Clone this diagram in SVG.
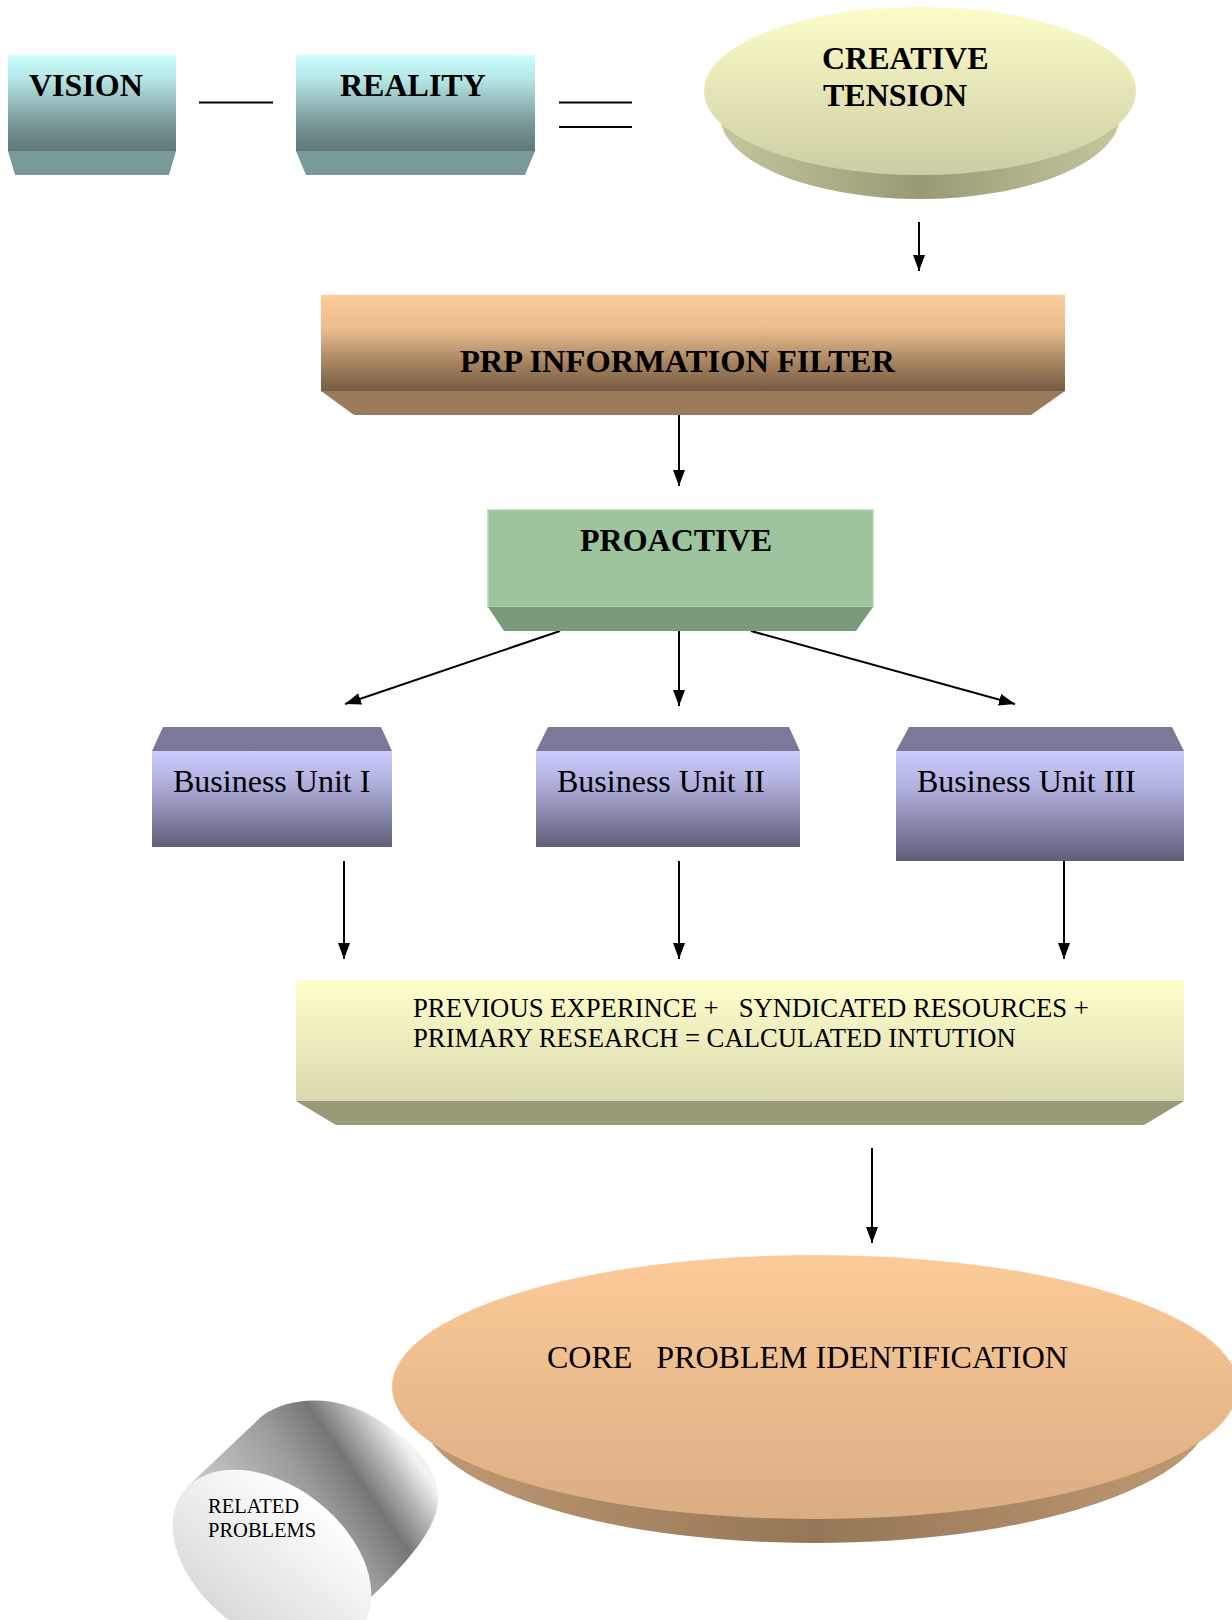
<svg xmlns="http://www.w3.org/2000/svg" width="1232" height="1620" viewBox="0 0 1232 1620">
<defs>
<style>
.b{font-family:"Liberation Serif","Times New Roman",serif;font-weight:bold;font-size:32px;fill:#000}
.r{font-family:"Liberation Serif","Times New Roman",serif;font-size:32px;fill:#000}
.s{font-family:"Liberation Serif","Times New Roman",serif;font-size:26.7px;fill:#000}
.t{font-family:"Liberation Serif","Times New Roman",serif;font-size:20.5px;fill:#000}
.ln{stroke:#000;stroke-width:2;fill:none}
.ar{stroke:#000;stroke-width:2;fill:none;marker-end:url(#ah)}
</style>
<marker id="ah" markerUnits="userSpaceOnUse" markerWidth="16" markerHeight="12" refX="16" refY="6" orient="auto">
<path d="M0,0 L16,6 L0,12 z" fill="#000"/>
</marker>
<linearGradient id="gCyan" x1="0" y1="0" x2="0" y2="1">
<stop offset="0" stop-color="#ccffff"/><stop offset="0.25" stop-color="#b6e6e6"/><stop offset="0.7" stop-color="#7b9999"/><stop offset="1" stop-color="#5e7777"/>
</linearGradient>
<linearGradient id="gPeach" x1="0" y1="0" x2="0" y2="1">
<stop offset="0" stop-color="#fecb98"/><stop offset="0.35" stop-color="#eabd8f"/><stop offset="0.72" stop-color="#a3815f"/><stop offset="1" stop-color="#765c44"/>
</linearGradient>
<linearGradient id="gBlue" x1="0" y1="0" x2="0" y2="1">
<stop offset="0" stop-color="#cacafc"/><stop offset="0.3" stop-color="#b4b4e2"/><stop offset="1" stop-color="#5e5e78"/>
</linearGradient>
<linearGradient id="gYel" x1="0" y1="0" x2="0" y2="1">
<stop offset="0" stop-color="#ffffcc"/><stop offset="1" stop-color="#d9d9ae"/>
</linearGradient>
<linearGradient id="gCTtop" x1="0" y1="0" x2="0" y2="1">
<stop offset="0" stop-color="#fdfdca"/><stop offset="1" stop-color="#cdcda4"/>
</linearGradient>
<linearGradient id="gCTside" x1="0" y1="0" x2="1" y2="0">
<stop offset="0" stop-color="#c6c69d"/><stop offset="0.5" stop-color="#999974"/><stop offset="1" stop-color="#c6c69d"/>
</linearGradient>
<linearGradient id="gCoreTop" x1="0" y1="0" x2="0" y2="1">
<stop offset="0" stop-color="#fdcb98"/><stop offset="1" stop-color="#dbad83"/>
</linearGradient>
<linearGradient id="gCoreSide" x1="0" y1="0" x2="1" y2="0">
<stop offset="0" stop-color="#c09a74"/><stop offset="0.5" stop-color="#967656"/><stop offset="1" stop-color="#c09a74"/>
</linearGradient>
<linearGradient id="gCyl" gradientUnits="userSpaceOnUse" x1="197" y1="1478" x2="353" y2="1370">
<stop offset="0" stop-color="#c8c8c8"/><stop offset="0.45" stop-color="#9c9c9c"/><stop offset="0.7" stop-color="#767676"/><stop offset="0.86" stop-color="#b4b4b4"/><stop offset="1" stop-color="#f2f2f2"/>
</linearGradient>
<linearGradient id="gCylFace" x1="0" y1="0" x2="0" y2="1">
<stop offset="0" stop-color="#ffffff"/><stop offset="1" stop-color="#dadada"/>
</linearGradient>
</defs>

<g id="connectors">
<line class="ln" x1="199" y1="102.5" x2="273" y2="102.5"/>
<line class="ln" x1="559" y1="102.5" x2="632" y2="102.5"/>
<line class="ln" x1="559" y1="127" x2="632" y2="127"/>
<line class="ar" x1="919" y1="222" x2="919" y2="271"/>
<line class="ar" x1="679" y1="415" x2="679" y2="486"/>
<line class="ar" x1="560" y1="631" x2="345" y2="704"/>
<line class="ar" x1="679" y1="631" x2="679" y2="706"/>
<line class="ar" x1="751" y1="631" x2="1015" y2="704"/>
<line class="ar" x1="344" y1="861" x2="344" y2="959"/>
<line class="ar" x1="679" y1="861" x2="679" y2="959"/>
<line class="ar" x1="1064" y1="861" x2="1064" y2="959"/>
<line class="ar" x1="872" y1="1148" x2="872" y2="1243"/>
</g>

<g id="vision">
<rect x="8" y="55" width="168" height="96" fill="url(#gCyan)"/>
<polygon points="8,151 176,151 169,175 15,175" fill="#7a9999"/>
<text class="b" x="29" y="96">VISION</text>
</g>

<g id="reality">
<rect x="296" y="55" width="239" height="96" fill="url(#gCyan)"/>
<polygon points="296,151 535,151 525,175 306,175" fill="#7a9999"/>
<text class="b" x="340" y="96">REALITY</text>
</g>

<g id="creative-tension">
<ellipse cx="920" cy="115" rx="200" ry="84" fill="url(#gCTside)"/>
<ellipse cx="920" cy="91" rx="216" ry="84" fill="url(#gCTtop)"/>
<text class="b" x="822" y="69">CREATIVE</text>
<text class="b" x="823" y="106">TENSION</text>
</g>

<g id="prp-filter">
<rect x="321" y="295" width="744" height="96" fill="url(#gPeach)"/>
<polygon points="321,391 1065,391 1031,415 354,415" fill="#9a7b5c"/>
<text class="b" x="460" y="372" textLength="435" lengthAdjust="spacingAndGlyphs">PRP INFORMATION FILTER</text>
</g>

<g id="proactive">
<rect x="488" y="510" width="385" height="97" fill="#9dc49c" stroke="#b2d6b1" stroke-width="1.5"/>
<polygon points="488,607 873,607 856,631 504,631" fill="#7a9a7a"/>
<text class="b" x="580" y="551">PROACTIVE</text>
</g>

<g id="business-unit-1">
<polygon points="163,727 381,727 392,751 152,751" fill="#7a7a98"/>
<rect x="152" y="751" width="240" height="96" fill="url(#gBlue)"/>
<text class="r" x="173" y="792">Business Unit I</text>
</g>

<g id="business-unit-2">
<polygon points="548,727 789,727 800,751 536,751" fill="#7a7a98"/>
<rect x="536" y="751" width="264" height="96" fill="url(#gBlue)"/>
<text class="r" x="557" y="792">Business Unit II</text>
</g>

<g id="business-unit-3">
<polygon points="909,727 1172,727 1184,751 896,751" fill="#7a7a98"/>
<rect x="896" y="751" width="288" height="110" fill="url(#gBlue)"/>
<text class="r" x="917" y="792">Business Unit III</text>
</g>

<g id="calculated-intuition">
<rect x="296" y="980" width="888" height="121" fill="url(#gYel)"/>
<polygon points="296,1101 1184,1101 1144,1125 336,1125" fill="#999977"/>
<text class="s" x="413" y="1017" xml:space="preserve">PREVIOUS EXPERINCE +   SYNDICATED RESOURCES +</text>
<text class="s" x="413" y="1047">PRIMARY RESEARCH = CALCULATED INTUTION</text>
</g>

<g id="core-problem">
<ellipse cx="815" cy="1411" rx="395" ry="132" fill="url(#gCoreSide)"/>
<ellipse cx="815" cy="1387" rx="423" ry="132" fill="url(#gCoreTop)"/>
<text class="r" x="547" y="1368" xml:space="preserve">CORE   PROBLEM IDENTIFICATION</text>
</g>

<g id="related-problems">
<path d="M187,1487 L262,1416 C292,1394 340,1396 375,1418 C415,1442 440,1470 438,1502 C436,1530 405,1565 368,1600 L272,1560 Z" fill="url(#gCyl)"/>
<ellipse cx="0" cy="0" rx="112" ry="74" transform="translate(272,1560) rotate(38)" fill="url(#gCylFace)"/>
<text class="t" x="208" y="1513">RELATED</text>
<text class="t" x="208" y="1537">PROBLEMS</text>
</g>
</svg>
